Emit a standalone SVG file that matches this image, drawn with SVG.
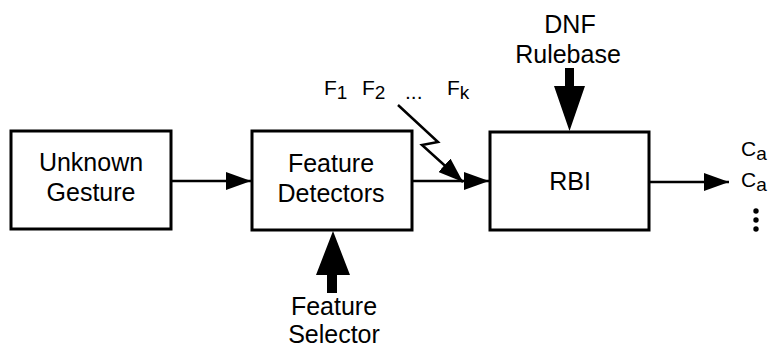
<svg xmlns="http://www.w3.org/2000/svg" width="772" height="347" viewBox="0 0 772 347">
  <style>
    .box { fill: #fff; stroke: #000; stroke-width: 3; }
    .lbl { font-family: "Liberation Sans", Arial, sans-serif; font-size: 25px; fill: #000; text-anchor: middle; }
    .sm { font-family: "Liberation Sans", Arial, sans-serif; font-size: 21px; fill: #000; }
    .sub { font-size: 19px; }
    .wire { fill: none; stroke: #000; stroke-width: 2.5; }
    .fat { fill: #000; stroke: none; }
  </style>
  <defs>
    <marker id="head" viewBox="0 0 25 18" refX="25" refY="9" markerWidth="25" markerHeight="18" markerUnits="userSpaceOnUse" orient="auto">
      <path d="M0,0 L25,9 L0,18 Z" fill="#000"/>
    </marker>
  </defs>

  <rect width="772" height="347" fill="#fff"/>

  <g id="connectors">
    <line class="wire" x1="171" y1="181" x2="251" y2="181" marker-end="url(#head)"/>
    <line class="wire" x1="412" y1="181" x2="489" y2="181" marker-end="url(#head)"/>
    <line class="wire" x1="650" y1="182" x2="729" y2="182" marker-end="url(#head)"/>
    <polyline class="wire" points="398,105 438,142 422,145 463,182" marker-end="url(#head)"/>
    <!-- thick input arrows -->
    <path class="fat" d="M565,68 L574,68 L574,86 L585,86 L569.5,131 L554,86 L565,86 Z"/>
    <path class="fat" d="M327,293 L337,293 L337,275 L350,275 L333,231 L316,275 L327,275 Z"/>
  </g>

  <g id="unknown-gesture">
    <rect class="box" x="11" y="131" width="160" height="98"/>
    <text class="lbl" x="91" y="171">Unknown</text>
    <text class="lbl" x="91" y="201">Gesture</text>
  </g>

  <g id="feature-detectors">
    <rect class="box" x="252" y="131" width="160" height="99"/>
    <text class="lbl" x="331" y="172">Feature</text>
    <text class="lbl" x="331" y="202">Detectors</text>
  </g>

  <g id="rbi">
    <rect class="box" x="490" y="132" width="159" height="98"/>
    <text class="lbl" x="570" y="190">RBI</text>
  </g>

  <g id="dnf-rulebase">
    <text class="lbl" x="570" y="33">DNF</text>
    <text class="lbl" x="568" y="63">Rulebase</text>
  </g>

  <g id="feature-selector">
    <text class="lbl" x="334" y="315">Feature</text>
    <text class="lbl" x="334" y="343">Selector</text>
  </g>

  <g id="features">
    <text class="sm" x="324" y="95">F<tspan class="sub" dy="4">1</tspan></text>
    <text class="sm" x="362" y="95">F<tspan class="sub" dy="4">2</tspan></text>
    <text class="sm" x="405" y="99">...</text>
    <text class="sm" x="447" y="95">F<tspan class="sub" dy="4">k</tspan></text>
  </g>

  <g id="outputs">
    <text class="sm" x="741" y="156">C<tspan class="sub" dy="4">a</tspan></text>
    <text class="sm" x="741" y="187">C<tspan class="sub" dy="4">a</tspan></text>
    <circle cx="756" cy="211" r="2.7" fill="#000"/>
    <circle cx="756" cy="220" r="2.7" fill="#000"/>
    <circle cx="756" cy="229" r="2.7" fill="#000"/>
  </g>
</svg>
